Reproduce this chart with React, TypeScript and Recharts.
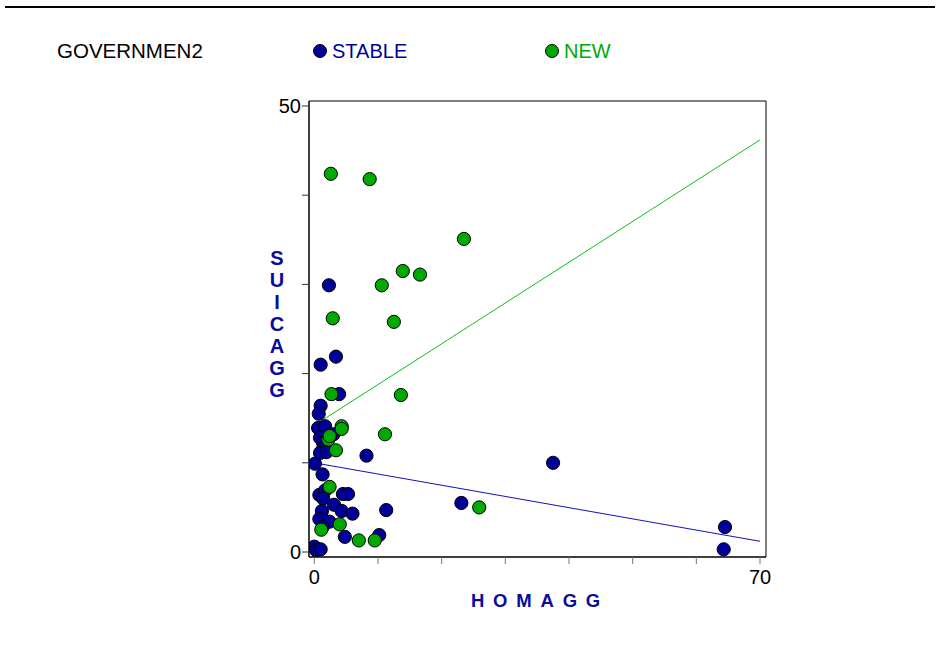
import { ScatterChart, Scatter, XAxis, YAxis, ReferenceArea } from 'recharts'

const BLUE = '#000099'
const GREEN = '#00a800'
const TITLE_BLUE = '#0a0aa0'

// STABLE government (blue)
const stableHom = [2.3, 3.4, 1.0, 3.9, 1.0, 0.7, 0.6, 1.7, 3.0, 0.9, 1.4, 1.4, 0.9, 1.9, 8.2, 0.1, 1.3, 37.5, 23.1, 64.5, 64.3, 0.8, 1.7, 1.4, 3.1, 4.5, 5.3, 4.3, 6.0, 11.3, 1.2, 0.8, 2.4, 1.3, 4.8, 10.2, 0.0, 0.3, 1.0]
const stableSui = [29.9, 21.9, 21.0, 17.7, 16.4, 15.5, 13.9, 14.1, 13.2, 12.8, 12.2, 11.6, 11.1, 11.2, 10.8, 9.9, 8.7, 10.0, 5.5, 2.8, 0.3, 6.4, 6.9, 6.0, 5.3, 6.5, 6.5, 4.6, 4.3, 4.7, 4.6, 3.7, 3.4, 2.8, 1.7, 1.9, 0.6, 0.2, 0.3]

// NEW government (green)
const newHom = [2.6, 8.7, 23.5, 13.9, 16.6, 10.6, 2.9, 12.5, 2.7, 13.6, 11.1, 4.3, 4.3, 3.4, 2.2, 2.4, 2.4, 4.0, 1.1, 7.0, 9.5, 25.9]
const newSui = [42.4, 41.8, 35.1, 31.5, 31.1, 29.9, 26.2, 25.8, 17.7, 17.6, 13.2, 14.1, 13.8, 11.4, 12.6, 13.0, 7.3, 3.1, 2.5, 1.3, 1.3, 5.0]

// fitted lines (endpoints at x = 0 and x = 70)
const fitX = [0, 70]
const stableFitY = [10.0, 1.2]
const newFitY = [14.2, 46.2]

const xTicks = [0, 10, 20, 30, 40, 50, 60, 70]
const yTicks = [0, 10, 20, 30, 40, 50]
const xLabeled = [0, 70]
const yLabeled = [0, 50]

const X_DOMAIN: [number, number] = [-0.83, 70.94]
const Y_DOMAIN: [number, number] = [-0.56, 50.56]

const zip = (xs: number[], ys: number[]) => xs.map((x, i) => ({ x, y: ys[i] }))

const stableData = zip(stableHom, stableSui)
const newData = zip(newHom, newSui)
const stableFit = zip(fitX, stableFitY)
const newFit = zip(fitX, newFitY)

const dot = (fill: string) => (p: any) => (
  <circle cx={p.cx} cy={p.cy} r={6.6} fill={fill} stroke="#000" strokeWidth={1} />
)

const font = '"Liberation Sans", Arial, sans-serif'

function YTitle({ viewBox }: any) {
  const letters = 'SUICAGG'.split('')
  const cx = viewBox.x + 8
  return (
    <text x={cx} y={265} textAnchor="middle" fill={TITLE_BLUE}
      style={{ fontFamily: font, fontSize: 20, fontWeight: 'bold' }}>
      {letters.map((ch, i) => (
        <tspan key={i} x={cx} dy={i === 0 ? 0 : 22}>{ch}</tspan>
      ))}
    </text>
  )
}

function XTitle() {
  return (
    <text x={540} y={607} textAnchor="middle" fill={TITLE_BLUE}
      style={{ fontFamily: font, fontSize: 18.5, fontWeight: 'bold', letterSpacing: 8.8 }}>
      HOMAGG
    </text>
  )
}

function LegendRow() {
  const item = (left: number, color: string, label: string) => (
    <div style={{ position: 'absolute', left, top: 40, display: 'flex', alignItems: 'center', height: 22 }}>
      <span style={{
        width: 12, height: 12, borderRadius: '50%', background: color,
        border: '1px solid #000', display: 'inline-block', marginRight: 5,
      }} />
      <span style={{ color, fontSize: 20 }}>{label}</span>
    </div>
  )
  return (
    <div style={{ fontFamily: font }}>
      <div style={{ position: 'absolute', left: 57, top: 40, fontSize: 20.5, lineHeight: '22px', color: '#000' }}>
        GOVERNMEN2
      </div>
      {item(313, BLUE, 'STABLE')}
      {item(545, GREEN, 'NEW')}
    </div>
  )
}

export default function App() {
  return (
    <div style={{ position: 'absolute', left: 0, top: 0, width: 940, height: 671, background: '#fff', fontFamily: font }}>
      <div style={{ position: 'absolute', left: 5, top: 6, width: 930, height: 2, background: '#000' }} />
      <LegendRow />
      <ScatterChart width={940} height={671} margin={{ top: 101, right: 174, bottom: 84, left: 269 }}>
        <XAxis
          type="number" dataKey="x" domain={X_DOMAIN} ticks={xTicks} allowDataOverflow
          tickFormatter={(v: number) => (xLabeled.includes(v) ? String(v) : '')}
          tick={{ fill: '#000', fontSize: 20, fontFamily: font }}
          tickLine={{ stroke: '#777' }} tickSize={7} tickMargin={6}
          axisLine={{ stroke: '#000' }} height={30}
          label={<XTitle />}
        />
        <YAxis
          type="number" dataKey="y" domain={Y_DOMAIN} ticks={yTicks} allowDataOverflow
          tickFormatter={(v: number) => (yLabeled.includes(v) ? String(v) : '')}
          tick={{ fill: '#000', fontSize: 20, fontFamily: font }}
          tickLine={{ stroke: '#333' }} tickSize={7} tickMargin={1}
          axisLine={{ stroke: '#000' }} width={40}
          label={<YTitle />}
        />
        <ReferenceArea x1={X_DOMAIN[0]} x2={X_DOMAIN[1]} y1={Y_DOMAIN[0]} y2={Y_DOMAIN[1]}
          fill="none" stroke="#000" strokeWidth={1} ifOverflow="visible" />
        <Scatter data={stableFit} line={{ stroke: '#1010c0', strokeWidth: 1 }} shape={() => <g />} isAnimationActive={false} />
        <Scatter data={newFit} line={{ stroke: '#10c010', strokeWidth: 1 }} shape={() => <g />} isAnimationActive={false} />
        <Scatter data={stableData} shape={dot(BLUE)} isAnimationActive={false} />
        <Scatter data={newData} shape={dot(GREEN)} isAnimationActive={false} />
      </ScatterChart>
    </div>
  )
}
